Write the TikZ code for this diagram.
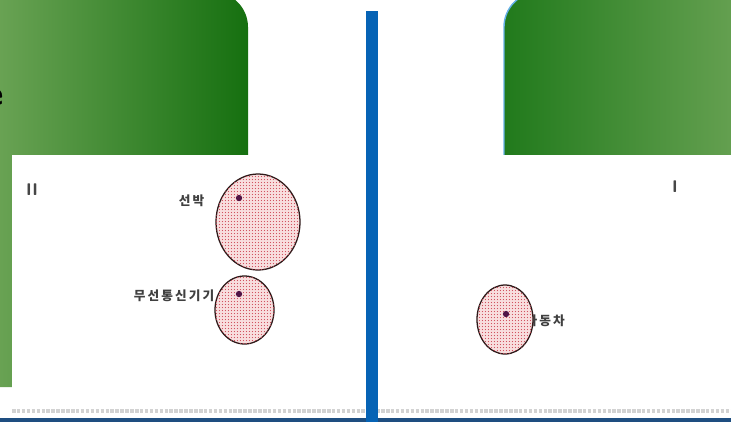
\documentclass[tikz,border=0pt]{standalone}
\usepackage{fontspec}
\newfontfamily\krfont{Noto Sans CJK KR}
\usetikzlibrary{positioning, shapes.geometric, patterns.meta}

\definecolor{leafdark}{RGB}{22,112,16}
\definecolor{leaflight}{RGB}{108,164,86}
\definecolor{leafmid}{RGB}{33,122,28}
\definecolor{rimblue}{RGB}{100,176,232}
\definecolor{barblue}{RGB}{6,99,181}
\definecolor{footnavy}{RGB}{30,78,128}
\definecolor{blobpink}{RGB}{248,222,222}
\definecolor{blobdot}{RGB}{205,70,85}
\definecolor{blobline}{RGB}{45,25,25}
\definecolor{pinpurple}{RGB}{80,20,70}

\newcommand\krlabel{\krfont\bfseries\fontsize{9}{10}\selectfont\spaceskip=1.5pt\relax}

\tikzdeclarepattern{name=finedots, type=uncolored,
  bounding box={(0,0) and (2.4pt,2.4pt)}, tile size={(2.4pt,2.4pt)},
  code={\fill (1.2pt,1.2pt) circle (0.5pt);}}

\begin{document}
\begin{tikzpicture}[x=0.025cm, y=-0.025cm,
  sheet/.style={fill=white},
  blob/.style={ellipse, draw=blobline, line width=0.9pt, inner sep=0pt,
    fill=blobpink, postaction={pattern=finedots, pattern color=blobdot}},
  pin/.style={circle, fill=pinpurple, inner sep=0pt, minimum size=4.5pt},
  lbl/.style={font=\krlabel, text=black!75, inner sep=1pt},
  roman/.style={font=\sffamily\bfseries\fontsize{12}{12}\selectfont, text=gray!55!black, inner sep=0pt}
]
\useasboundingbox (0,0) rectangle (731,422);

% green title panels
\shade[left color=leaflight, right color=leafdark]
  (-10,387) -- (-10,-8) [rounded corners=0.875cm] -- (248,-8) [sharp corners] -- (248,387) -- cycle;
\shade[left color=leafmid, right color=leaflight]
  (504,160) [rounded corners=0.875cm] -- (504,-8) [sharp corners] -- (760,-8) -- (760,160) -- cycle;
\draw[rimblue, line width=1pt] (504,158) [rounded corners=0.875cm] -- (504,-8) -- (760,-8);
\node[font=\sffamily\bfseries\fontsize{24}{24}\selectfont, anchor=base east, inner sep=0pt] (cut) at (4,105) {e};

% picture sheets
\fill[sheet] (12,155) rectangle (366,412);
\fill[sheet] (378,155) rectangle (731,412);
\draw[gray!35, densely dotted, line width=2.5pt] (12,411) -- (731,411);
\fill[footnavy] (0,418) rectangle (731,422);
\fill[barblue] (366,11) rectangle (378,422);

% left map
\node[roman] (two) at (32,190) {II};
\node[blob, minimum width=2.1cm, minimum height=2.4cm] (ship) at (258,222) {};
\node[blob, minimum width=1.475cm, minimum height=1.7cm] (radio) at (244.5,310) {};
\node[pin] (shippin) at (239,198) {};
\node[pin] (radiopin) at (239,294) {};
\node[lbl, anchor=east] (shiplbl) at (206,201) {선 박};
\node[lbl, anchor=east] (radiolbl) at (216,296) {무 선 통 신 기 기};

% right map
\node[roman] (one) at (675,187) {I};
\node[lbl, anchor=west] (carlbl) at (524,321) {자 동 차};
\node[blob, minimum width=1.4cm, minimum height=1.725cm] (car) at (505,319.5) {};
\node[pin] (carpin) at (506,314) {};

\end{tikzpicture}
\end{document}
